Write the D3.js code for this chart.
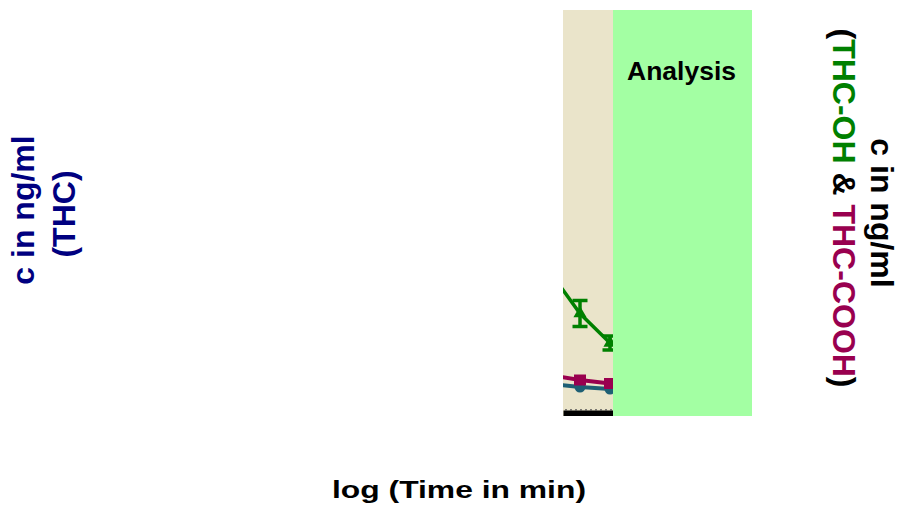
<!DOCTYPE html>
<html>
<head>
<meta charset="utf-8">
<script src="https://cdn.jsdelivr.net/npm/d3@7/dist/d3.min.js"></script>
<style>
  html, body { margin: 0; padding: 0; background: #fff; }
  svg { display: block; }
  text { font-family: "Liberation Sans", Arial, Helvetica, sans-serif; font-weight: bold; }
</style>
</head>
<body>
<svg id="chart" width="900" height="508"></svg>
<script>
// Sampling times (log of minutes) and measured concentrations
const logTime   = [0.9, 1.2, 1.5];
const thc       = [1.3, 1.15, 1.05];   // ng/ml, left axis
const thcOH     = [13.8, 9.65, 6.7];   // ng/ml, right axis
const thcOHErr  = [0, 1.3, 0.7];
const thcCOOH   = [3.5, 3.0, 2.65];    // ng/ml, right axis

// Phases along the time axis
const phaseLabels = ["", "Analysis"];
const phaseStart  = [1.03, 1.53];
const phaseEnd    = [1.53, 2.92];

const svg = d3.select("#chart");
const plotTop = 10, plotBottom = 410;

const x = d3.scaleLinear().domain([1.03, 2.92]).range([563, 752]);
const yLeft = d3.scaleLinear().domain([0, 20]).range([plotBottom, plotTop]);
const yRight = d3.scaleLinear().domain([0, 40]).range([plotBottom, plotTop]);

const phaseFill = ["#EAE4CA", "#A3FFA3"];

const defs = svg.append("defs");
defs.append("clipPath").attr("id", "plotClip")
  .append("rect")
  .attr("x", x(phaseStart[0])).attr("y", plotTop)
  .attr("width", x(phaseEnd[1]) - x(phaseStart[0]))
  .attr("height", plotBottom - plotTop + 6);
defs.append("clipPath").attr("id", "phase0Clip")
  .append("rect")
  .attr("x", x(phaseStart[0])).attr("y", plotTop)
  .attr("width", x(phaseEnd[0]) - x(phaseStart[0]))
  .attr("height", plotBottom - plotTop + 6);

// first phase background
svg.append("rect")
  .attr("x", x(phaseStart[0])).attr("y", plotTop)
  .attr("width", x(phaseEnd[0]) - x(phaseStart[0]))
  .attr("height", plotBottom - plotTop + 6)
  .attr("fill", phaseFill[0]);

// time axis: heavy baseline with small tick dashes
const axisG = svg.append("g").attr("clip-path", "url(#phase0Clip)");
const axis = axisG.append("g")
  .attr("transform", `translate(0,${plotBottom + 3})`)
  .call(d3.axisBottom(x).tickValues([]).tickSizeOuter(0));
axis.select(".domain").attr("stroke", "#000").attr("stroke-width", 6);
axisG.append("g").selectAll("line")
  .data(d3.range(phaseStart[0], phaseEnd[0], 0.05))
  .join("line")
  .attr("x1", d => x(d) + 2).attr("x2", d => x(d) + 4)
  .attr("y1", plotBottom).attr("y2", plotBottom)
  .attr("stroke", "#555").attr("stroke-width", 1.5);

const plot = svg.append("g").attr("clip-path", "url(#plotClip)");

const pts = (vals, y) => logTime.map((t, i) => [x(t), y(vals[i])]);
const line = d3.line();

// THC (left axis)
const thcCol = "#1E5F74";
plot.append("path").attr("d", line(pts(thc, yLeft)))
  .attr("fill", "none").attr("stroke", thcCol).attr("stroke-width", 4);
plot.selectAll(".thc").data(pts(thc, yLeft)).join("circle")
  .attr("cx", d => d[0]).attr("cy", d => d[1]).attr("r", 5.5)
  .attr("fill", thcCol);

// THC-COOH (right axis)
const coohCol = "#99004F";
plot.append("path").attr("d", line(pts(thcCOOH, yRight)))
  .attr("fill", "none").attr("stroke", coohCol).attr("stroke-width", 4);
plot.selectAll(".cooh").data(pts(thcCOOH, yRight)).join("rect")
  .attr("x", d => d[0] - 6).attr("y", d => d[1] - 5.5)
  .attr("width", 12).attr("height", 11)
  .attr("fill", coohCol);

// THC-OH (right axis) with error bars
const ohCol = "#008000";
plot.append("path").attr("d", line(pts(thcOH, yRight)))
  .attr("fill", "none").attr("stroke", ohCol).attr("stroke-width", 3.5);
logTime.forEach((t, i) => {
  const e = thcOHErr[i];
  if (!e) return;
  const cx = x(t), y1 = yRight(thcOH[i] + e), y2 = yRight(thcOH[i] - e);
  plot.append("line").attr("x1", cx).attr("x2", cx).attr("y1", y1).attr("y2", y2)
    .attr("stroke", ohCol).attr("stroke-width", 3.5);
  [y1, y2].forEach(yy => plot.append("line")
    .attr("x1", cx - 7.5).attr("x2", cx + 7.5).attr("y1", yy).attr("y2", yy)
    .attr("stroke", ohCol).attr("stroke-width", 3.5));
});
plot.selectAll(".oh").data(pts(thcOH, yRight)).join("path")
  .attr("transform", d => `translate(${d[0]},${d[1]})`)
  .attr("d", d3.symbol(d3.symbolTriangle, 75)())
  .attr("fill", ohCol);

// analysis phase background (drawn over the traces)
svg.append("rect")
  .attr("x", x(phaseStart[1])).attr("y", plotTop)
  .attr("width", x(phaseEnd[1]) - x(phaseStart[1]))
  .attr("height", plotBottom - plotTop + 6)
  .attr("fill", phaseFill[1]);

svg.append("text")
  .attr("x", (x(phaseStart[1]) + x(phaseEnd[1])) / 2 - 1)
  .attr("y", 80)
  .attr("text-anchor", "middle")
  .attr("font-size", 25)
  .attr("textLength", 109).attr("lengthAdjust", "spacingAndGlyphs")
  .attr("fill", "#000")
  .text(phaseLabels[1]);

// x-axis title
svg.append("text")
  .attr("x", 459).attr("y", 498)
  .attr("text-anchor", "middle")
  .attr("font-size", 24)
  .attr("textLength", 254).attr("lengthAdjust", "spacingAndGlyphs")
  .attr("fill", "#000")
  .text("log (Time in min)");

// left axis title
const navy = "#000080";
svg.append("text")
  .attr("transform", "translate(34,210) rotate(-90)")
  .attr("text-anchor", "middle").attr("font-size", 32).attr("fill", navy)
  .text("c in ng/ml");
svg.append("text")
  .attr("transform", "translate(75,214) rotate(-90)")
  .attr("text-anchor", "middle").attr("font-size", 32).attr("fill", navy)
  .text("(THC)");

// right axis title
svg.append("text")
  .attr("transform", "translate(871,213) rotate(90)")
  .attr("text-anchor", "middle").attr("font-size", 32).attr("fill", "#000")
  .text("c in ng/ml");
const r2 = svg.append("text")
  .attr("transform", "translate(833,208) rotate(90)")
  .attr("text-anchor", "middle").attr("font-size", 32).attr("fill", "#000");
r2.append("tspan").text("(");
r2.append("tspan").attr("fill", ohCol).text("THC-OH");
r2.append("tspan").text(" & ");
r2.append("tspan").attr("fill", coohCol).text("THC-COOH");
r2.append("tspan").text(")");
</script>
</body>
</html>
